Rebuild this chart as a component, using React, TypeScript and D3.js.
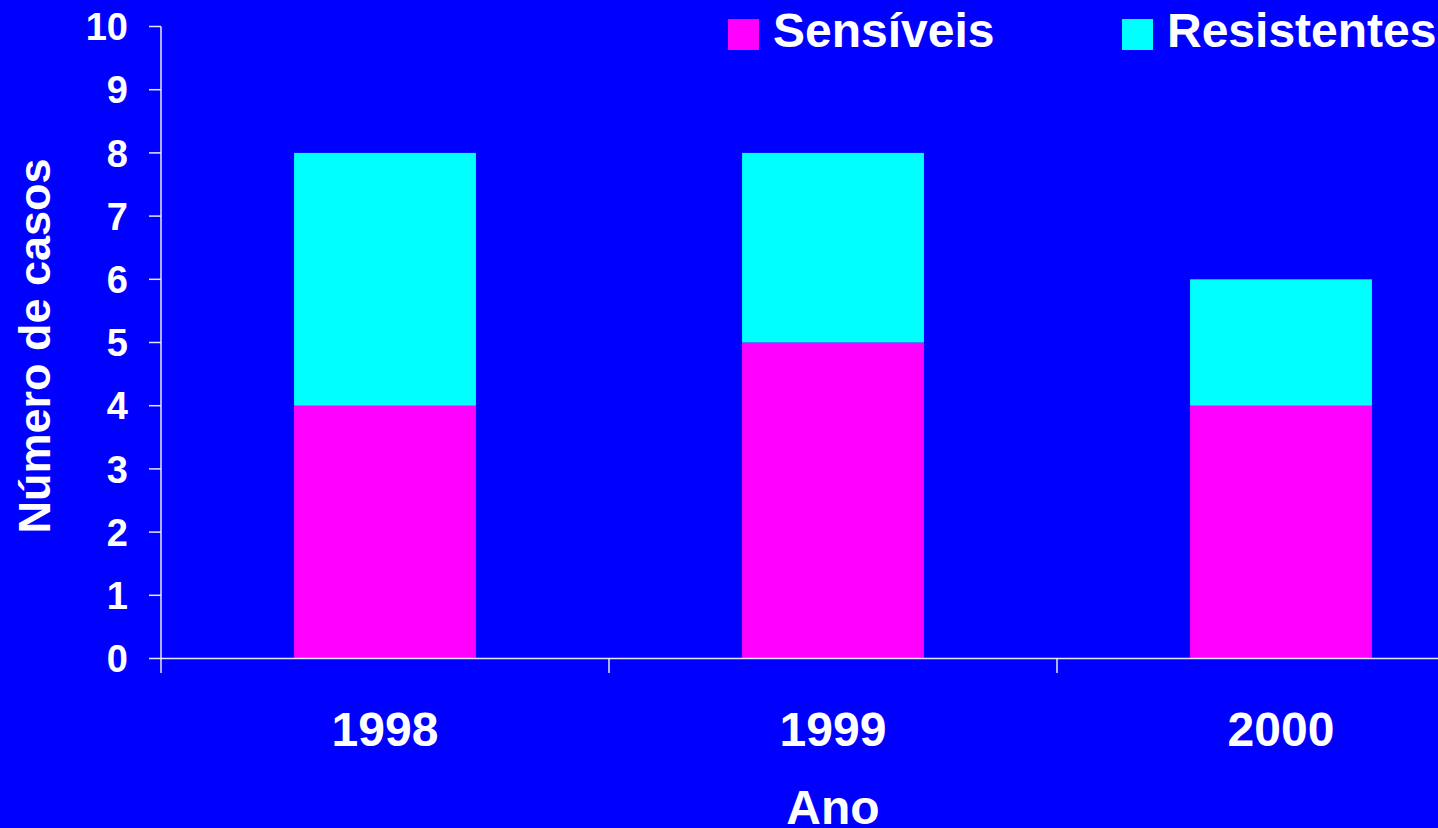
import React from "react";
import * as d3 from "d3";

const years = ["1998", "1999", "2000"];
const sensiveis = [4, 5, 4];
const resistentes = [4, 3, 2];
const seriesNames = ["Sensíveis", "Resistentes"];
const seriesColors = ["#FF00FF", "#00FFFF"];
const yTicks = [0, 1, 2, 3, 4, 5, 6, 7, 8, 9, 10];

const W = 1438;
const H = 828;
const FONT = "'Liberation Sans', Arial, sans-serif";

export default function App() {
  const rows = years.map((y, i) => ({ year: y, s: sensiveis[i], r: resistentes[i] }));
  const stack = d3.stack<any>().keys(["s", "r"]);
  const stacked = stack(rows);

  const x = d3
    .scaleBand<string>()
    .domain(years)
    .range([161, 1505])
    .paddingInner(0.594)
    .paddingOuter(0.297);
  const step = x.step();
  const x0 = 161;
  const y = d3.scaleLinear().domain([0, 10]).range([658.5, 26.5]);

  const legendX = [728, 1122];

  return (
    <svg
      width={W}
      height={H}
      style={{ position: "fixed", left: 0, top: 0, display: "block" }}
      fontFamily={FONT}
    >
      <rect x={0} y={0} width={W} height={H} fill="#0000FF" />
      {stacked.map((layer, li) =>
        layer.map((d, i) => (
          <rect
            key={`${li}-${i}`}
            x={x(years[i])}
            y={y(d[1])}
            width={x.bandwidth()}
            height={y(d[0]) - y(d[1])}
            fill={seriesColors[li]}
          />
        ))
      )}
      {/* y axis */}
      <line x1={161} x2={161} y1={y(10)} y2={y(0)} stroke="#E8E8FF" strokeWidth={1.5} />
      {yTicks.map((t) => (
        <g key={t}>
          <line x1={149} x2={161} y1={y(t)} y2={y(t)} stroke="#E8E8FF" strokeWidth={1.5} />
          <text
            x={128}
            y={y(t)}
            dy="0.36em"
            textAnchor="end"
            fill="#FFFFFF"
            fontSize={38}
            fontWeight="bold"
          >
            {t}
          </text>
        </g>
      ))}
      {/* x axis */}
      <line x1={161} x2={1505} y1={y(0)} y2={y(0)} stroke="#E8E8FF" strokeWidth={1.5} />
      {d3.range(years.length + 1).map((i) => (
        <line
          key={i}
          x1={x0 + i * step}
          x2={x0 + i * step}
          y1={y(0)}
          y2={673}
          stroke="#E8E8FF"
          strokeWidth={1.5}
        />
      ))}
      {years.map((yr) => (
        <text
          key={yr}
          x={(x(yr) as number) + x.bandwidth() / 2}
          y={746}
          textAnchor="middle"
          fill="#FFFFFF"
          fontSize={48}
          fontWeight="bold"
        >
          {yr}
        </text>
      ))}
      <text x={833} y={824} textAnchor="middle" fill="#FFFFFF" fontSize={48} fontWeight="bold">
        Ano
      </text>
      <text
        transform={`translate(50,${346}) rotate(-90)`}
        textAnchor="middle"
        fill="#FFFFFF"
        fontSize={45}
        fontWeight="bold"
      >
        Número de casos
      </text>
      {/* legend */}
      {seriesNames.map((n, i) => (
        <g key={n}>
          <rect x={legendX[i]} y={19} width={31} height={31} fill={seriesColors[i]} />
          <text x={legendX[i] + 45} y={47} fill="#FFFFFF" fontSize={48} fontWeight="bold">
            {n}
          </text>
        </g>
      ))}
    </svg>
  );
}
